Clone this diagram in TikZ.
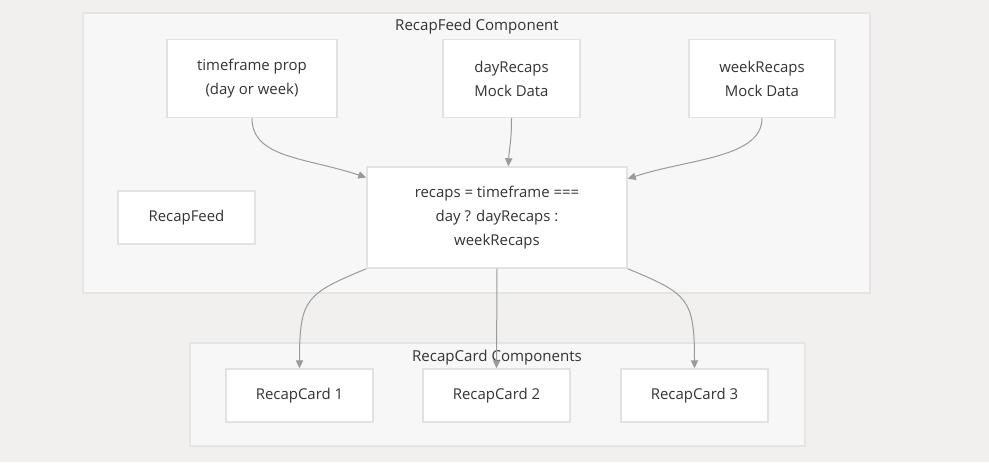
\documentclass[tikz,border=0pt]{standalone}
\usepackage{fontspec}
\setmainfont{Open Sans}
\usepackage{tikz}
\usetikzlibrary{arrows.meta, positioning}

\definecolor{canvas}{HTML}{F1F0EF}
\definecolor{groupfill}{HTML}{F7F7F7}
\definecolor{groupline}{HTML}{E4E4E4}
\definecolor{boxline}{HTML}{E2E2E2}
\definecolor{edgegray}{HTML}{9A9A9A}
\definecolor{txt}{HTML}{333333}

\begin{document}
\begin{tikzpicture}[x=0.75pt, y=-0.75pt, >={Triangle[length=6pt, width=5.5pt]},
    box/.style={rectangle, fill=white, draw=boxline, line width=1.1pt, text=txt, align=center,
        font=\fontsize{11.2}{18}\selectfont, inner sep=0pt},
    group/.style={fill=groupfill, draw=groupline, line width=1.1pt},
    grouptitle/.style={text=txt, font=\fontsize{11.3}{13}\selectfont, inner sep=0pt},
    link/.style={->, draw=edgegray, line width=0.75pt}]
\fill [canvas] (0,0) rectangle (989,462);
\useasboundingbox (0,0) rectangle (989,462);

% groups
\draw [group] (83,13) rectangle (870,293);
\node [grouptitle] (feedtitle) at (477,27) {RecapFeed Component};
\draw [group] (190,343) rectangle (805,446);
\node [grouptitle] (cardtitle) at (497,358) {RecapCard Components};

% sources
\node [box, minimum width=127.5pt, minimum height=58.5pt] (timeframe) at (252,78.5) {timeframe prop\\(day or week)};
\node [box, minimum width=102.75pt, minimum height=58.5pt] (dayrecaps) at (511.5,78.5) {dayRecaps\\Mock Data};
\node [box, minimum width=109.5pt, minimum height=58.5pt] (weekrecaps) at (762,78.5) {weekRecaps\\Mock Data};
\node [box, minimum width=102.75pt, minimum height=39.75pt] (recapfeed) at (186.5,217.5) {RecapFeed};
\node [box, minimum width=195pt, minimum height=75.75pt] (recaps) at (497,217.5) {recaps = timeframe ===\\day ? dayRecaps :\\weekRecaps};

% cards
\node [box, minimum width=110.25pt, minimum height=39.75pt] (card1) at (299.5,395.5) {RecapCard 1};
\node [box, minimum width=110.25pt, minimum height=39.75pt] (card2) at (496.5,395.5) {RecapCard 2};
\node [box, minimum width=110.25pt, minimum height=39.75pt] (card3) at (694.5,395.5) {RecapCard 3};

\draw [link] (timeframe.south) .. controls +(0,40) and +(-60,-20) .. ([yshift=30pt]recaps.west);
\draw [link] (dayrecaps.south) .. controls +(0,25) and +(1,-20) .. ([xshift=8.5pt]recaps.north);
\draw [link] (weekrecaps.south) .. controls +(0,40) and +(60,-20) .. ([yshift=29pt]recaps.east);

\draw [link] (recaps.south west) .. controls +(-60,25) and +(0,-70) .. (card1.north);
\draw [link] (recaps.south) -- (card2.north);
\draw [link] (recaps.south east) .. controls +(60,25) and +(0,-70) .. (card3.north);

\end{tikzpicture}
\end{document}
